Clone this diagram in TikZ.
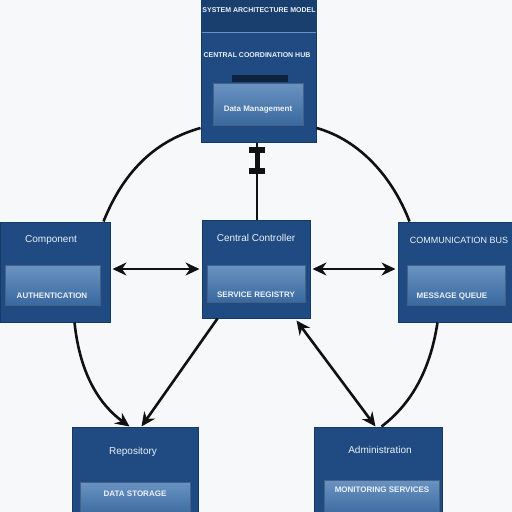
\documentclass[tikz,border=0pt]{standalone}
\usepackage{fontspec}
\setmainfont{Liberation Sans}
\usetikzlibrary{arrows.meta,calc}
\definecolor{bg}{HTML}{F7F8FA}
\definecolor{boxfill}{HTML}{1F4B82}
\definecolor{boxline}{HTML}{163A66}
\definecolor{paneltop}{HTML}{6A93C2}
\definecolor{panelbot}{HTML}{3A699F}
\definecolor{txt}{HTML}{ECF1F8}
\definecolor{conn}{HTML}{111111}
\tikzset{
  box/.style={draw=boxline,line width=1pt,fill=boxfill,rectangle,inner sep=0pt},
  panel/.style={draw=boxline!80!white,line width=0.6pt,top color=paneltop,bottom color=panelbot,rectangle,inner sep=0pt},
  ttl/.style={text=txt,font=\fontsize{10}{11}\selectfont,inner sep=0pt},
  sub/.style={text=txt,font=\fontsize{8}{9}\selectfont\bfseries,inner sep=0pt},
  link/.style={draw=conn,line width=2.6pt},
  tip/.style={-{Stealth[length=14pt,width=13pt]}},
  dtip/.style={{Stealth[length=14pt,width=13pt]}-{Stealth[length=14pt,width=13pt]}}
}
\begin{document}
\begin{tikzpicture}[x=1pt,y=-1pt]
\useasboundingbox[fill=bg] (0,0) rectangle (512,512);
% top box
\node[box,minimum width=115pt,minimum height=142pt] (top) at (258.5,71) {};
\fill[boxline!70!boxfill] (top.north west) rectangle ($(top.north east)+(0,33)$);
\draw[paneltop,line width=1.5pt] ($(top.north west)+(1,33)$) -- ($(top.north east)+(-1,33)$);
\node[ttl,font=\fontsize{7}{8}\selectfont\bfseries] (toptitle) at (259,10) {SYSTEM ARCHITECTURE MODEL};
\node[sub,font=\fontsize{7}{8}\selectfont\bfseries] (topsub) at (257,55) {CENTRAL COORDINATION HUB};
\fill[boxline!60!black] (232,75) rectangle (288,82);
\node[panel,minimum width=90pt,minimum height=42pt] (toppanel) at (258,104) {};
\node[sub] (toppaneltxt) at (258,110) {Data Management};
% center box
\node[box,minimum width=108pt,minimum height=98pt] (ctr) at (256,269) {};
\node[ttl] (ctrtitle) at (256,238) {Central Controller};
\node[panel,minimum width=98pt,minimum height=37pt] (ctrpanel) at (256,283.5) {};
\node[sub] (ctrpaneltxt) at (256,295) {SERVICE REGISTRY};
% left box
\node[box,minimum width=110pt,minimum height=100pt] (lft) at (55,272) {};
\node[ttl] (lfttitle) at (51,240) {Component};
\node[panel,minimum width=95pt,minimum height=40pt] (lftpanel) at (52.5,285) {};
\node[sub] (lftpaneltxt) at (52,296) {AUTHENTICATION};
% right box
\node[box,minimum width=114pt,minimum height=100pt] (rgt) at (455,272) {};
\node[ttl,font=\fontsize{9}{10}\selectfont] (rgttitle) at (459,240) {COMMUNICATION BUS};
\node[panel,minimum width=98pt,minimum height=40pt] (rgtpanel) at (456,285) {};
\node[sub] (rgtpaneltxt) at (452,296) {MESSAGE QUEUE};
% bottom-left box
\node[box,minimum width=126pt,minimum height=90pt] (bl) at (135,472) {};
\node[ttl] (bltitle) at (133,452) {Repository};
\node[panel,minimum width=110pt,minimum height=34pt] (blpanel) at (135,499) {};
\node[sub] (blpaneltxt) at (135,494) {DATA STORAGE};
% bottom-right box
\node[box,minimum width=128pt,minimum height=90pt] (br) at (378,472) {};
\node[ttl] (brtitle) at (380,450) {Administration};
\node[panel,minimum width=115pt,minimum height=36pt] (brpanel) at (382,498) {};
\node[sub] (brpaneltxt) at (382,490) {MONITORING SERVICES};
% connectors
\coordinate (vtop) at ($(top.south)+(-1.5,0)$);
\coordinate (vbot) at ($(ctr.north)+(1,0)$);
\draw[conn,line width=2pt] (vtop) -- (vbot);
\draw[conn,line width=5pt] ($(vtop)+(0,6)$) -- ($(vtop)+(0,28)$);
\draw[conn,line width=6pt] ($(vtop)+(-8,7)$) -- ($(vtop)+(8,7)$);
\draw[conn,line width=6pt] ($(vtop)+(-8,28)$) -- ($(vtop)+(8,28)$);
\draw[link,dtip] ($(lft.east)+(2,-3)$) -- ($(ctr.west)+(-2,0)$);
\draw[link,dtip] ($(ctr.east)+(2,0)$) -- ($(rgt.west)+(-2,-3)$);
\draw[link] ($(lft.north east)+(-7,0)$) .. controls (125,168) and (158,140) .. ($(top.west)+(0,57)$);
\draw[link] ($(top.east)+(0,57)$) .. controls (360,140) and (393,178) .. ($(rgt.north west)+(12,0)$);
\draw[link,tip] ($(lft.south west)+(75,0)$) .. controls (80,375) and (100,405) .. ($(bl.north west)+(58,0)$);
\draw[link,tip] ($(ctr.south west)+(16,0)$) -- ($(bl.north west)+(70,0)$);
\draw[link,dtip] ($(ctr.south east)+(-14,2)$) -- ($(br.north west)+(62,0)$);
\draw[link] ($(rgt.south east)+(-75,0)$) .. controls (430,372) and (410,405) .. ($(br.north west)+(68,0)$);
\end{tikzpicture}
\end{document}
